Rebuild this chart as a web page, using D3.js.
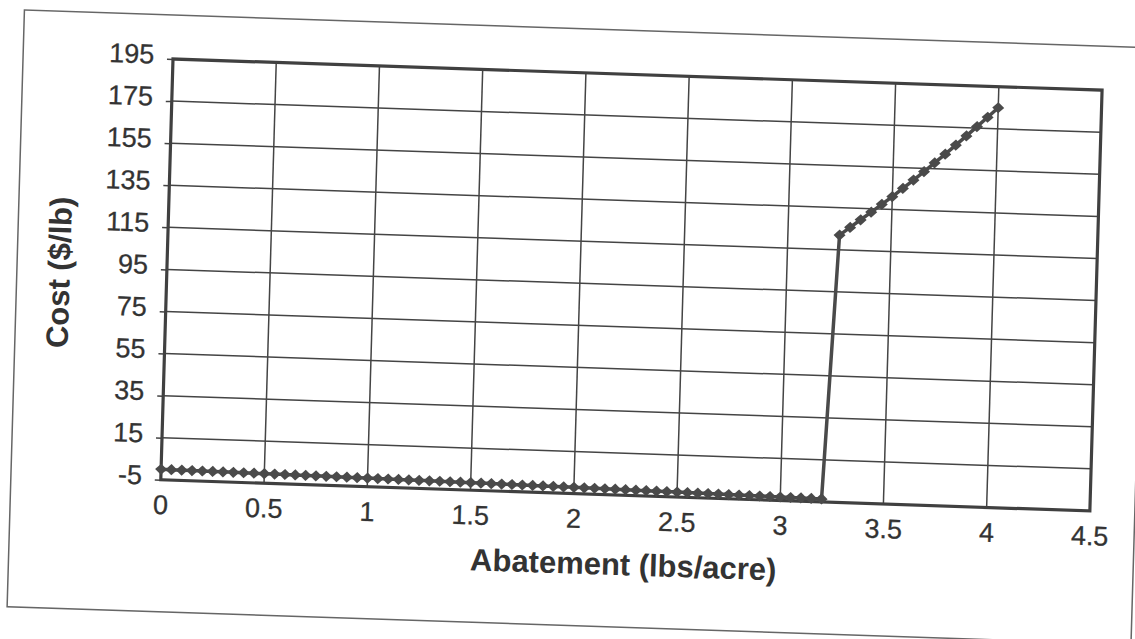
<!DOCTYPE html>
<html>
<head>
<meta charset="utf-8">
<script src="https://cdn.jsdelivr.net/npm/d3@7/dist/d3.min.js"></script>
<style>
  html, body { margin: 0; padding: 0; background: #ffffff; }
  svg { display: block; }
  text { font-family: "Liberation Sans", Arial, sans-serif; fill: #333; }
</style>
</head>
<body>
<svg id="chart" width="1135" height="639"></svg>
<script>
// Abatement (lbs/acre) and marginal cost ($/lb) for each step of the curve
const abatement = [
  0.00, 0.05, 0.10, 0.15, 0.20, 0.25, 0.30, 0.35, 0.40, 0.45,
  0.50, 0.55, 0.60, 0.65, 0.70, 0.75, 0.80, 0.85, 0.90, 0.95,
  1.00, 1.05, 1.10, 1.15, 1.20, 1.25, 1.30, 1.35, 1.40, 1.45,
  1.50, 1.55, 1.60, 1.65, 1.70, 1.75, 1.80, 1.85, 1.90, 1.95,
  2.00, 2.05, 2.10, 2.15, 2.20, 2.25, 2.30, 2.35, 2.40, 2.45,
  2.50, 2.55, 2.60, 2.65, 2.70, 2.75, 2.80, 2.85, 2.90, 2.95,
  3.00, 3.05, 3.10, 3.15, 3.20,
  3.25, 3.30, 3.35, 3.40, 3.45, 3.50, 3.55, 3.60, 3.65, 3.70,
  3.75, 3.80, 3.85, 3.90, 3.95, 4.00
];
const cost = [
  0.00, -0.04, -0.08, -0.12, -0.16, -0.21, -0.25, -0.29, -0.34, -0.38,
  -0.43, -0.47, -0.52, -0.56, -0.61, -0.66, -0.70, -0.75, -0.80, -0.85,
  -0.90, -0.95, -1.00, -1.05, -1.10, -1.16, -1.21, -1.26, -1.32, -1.37,
  -1.43, -1.48, -1.54, -1.59, -1.65, -1.71, -1.76, -1.82, -1.88, -1.94,
  -2.00, -2.06, -2.12, -2.18, -2.24, -2.31, -2.37, -2.43, -2.50, -2.56,
  -2.63, -2.69, -2.76, -2.82, -2.89, -2.96, -3.02, -3.09, -3.16, -3.23,
  -3.30, -3.37, -3.44, -3.51, -3.58,
  122.0, 125.8, 129.6, 133.4, 137.3, 141.1, 145.2, 149.3, 153.5, 157.8,
  162.1, 166.6, 171.1, 175.7, 180.3, 185.0
];
const xTickValues = [0, 0.5, 1, 1.5, 2, 2.5, 3, 3.5, 4, 4.5];
const yTickValues = [-5, 15, 35, 55, 75, 95, 115, 135, 155, 175, 195];
const xTitle = "Abatement (lbs/acre)";
const yTitle = "Cost ($/lb)";

const points = abatement.map((a, i) => ({ x: a, y: cost[i] }));

const W = 930, H = 421;
const ink = "#444";
const FONT = "'Liberation Sans', Arial, sans-serif";

const svg = d3.select("#chart");
// The printed page sits slightly tilted; the whole figure is drawn in a tilted frame
const g = svg.append("g")
  .attr("transform", "matrix(0.999,0.0335,-0.029,0.9995,173,59)");

const x = d3.scaleLinear().domain([0, 4.5]).range([0, W]);
const y = d3.scaleLinear().domain([-5, 195]).range([H, 0]);

// outer chart frame
g.append("rect")
  .attr("x", -150).attr("y", -44)
  .attr("width", 1125).attr("height", 597)
  .attr("fill", "none").attr("stroke", "#666").attr("stroke-width", 1.5);

// gridlines
g.append("g")
  .selectAll("line")
  .data(yTickValues.slice(1, -1))
  .join("line")
  .attr("x1", 0).attr("x2", W)
  .attr("y1", d => y(d)).attr("y2", d => y(d))
  .attr("stroke", ink).attr("stroke-width", 1.5);

g.append("g")
  .selectAll("line")
  .data(xTickValues.slice(1, -1))
  .join("line")
  .attr("y1", 0).attr("y2", H)
  .attr("x1", d => x(d)).attr("x2", d => x(d))
  .attr("stroke", ink).attr("stroke-width", 1.5);

// y axis: ticks and labels
const yAxis = d3.axisLeft(y).tickValues(yTickValues).tickSize(6).tickPadding(13)
  .tickFormat(d => String(d));
const ya = g.append("g").call(yAxis);
ya.attr("font-family", FONT).attr("font-size", 27);
ya.select(".domain").remove();
ya.selectAll(".tick line").attr("stroke", ink).attr("stroke-width", 1.5);
ya.selectAll(".tick text")
  .attr("fill", "#333").attr("dy", "0.17em")
  .attr("stroke", "#333").attr("stroke-width", 0.3);

// x axis: labels only
const xAxis = d3.axisBottom(x).tickValues(xTickValues).tickSize(0).tickPadding(15)
  .tickFormat(d => String(d));
const xa = g.append("g").attr("transform", `translate(0,${H})`).call(xAxis);
xa.attr("font-family", FONT).attr("font-size", 27);
xa.select(".domain").remove();
xa.selectAll(".tick text")
  .attr("fill", "#333")
  .attr("stroke", "#333").attr("stroke-width", 0.3);

// plot border
g.append("rect")
  .attr("x", 0).attr("y", 0).attr("width", W).attr("height", H)
  .attr("fill", "none").attr("stroke", "#404040").attr("stroke-width", 3.2);

// series line
const line = d3.line().x(d => x(d.x)).y(d => y(d.y));
g.append("path")
  .datum(points)
  .attr("d", line)
  .attr("fill", "none").attr("stroke", "#4a4a4a").attr("stroke-width", 3.5);

// diamond markers
const diamond = "M0,-5.6L6,0L0,5.6L-6,0Z";
g.append("g")
  .selectAll("path")
  .data(points)
  .join("path")
  .attr("d", diamond)
  .attr("transform", d => `translate(${x(d.x)},${y(d.y)})`)
  .attr("fill", "#4a4a4a");

// axis titles
g.append("text")
  .attr("x", 465).attr("y", 501)
  .attr("text-anchor", "middle")
  .attr("font-size", 31).attr("font-weight", "bold")
  .text(xTitle);

g.append("text")
  .attr("transform", "translate(-97,217) rotate(-90)")
  .attr("text-anchor", "middle")
  .attr("font-size", 31).attr("font-weight", "bold")
  .text(yTitle);
</script>
</body>
</html>
